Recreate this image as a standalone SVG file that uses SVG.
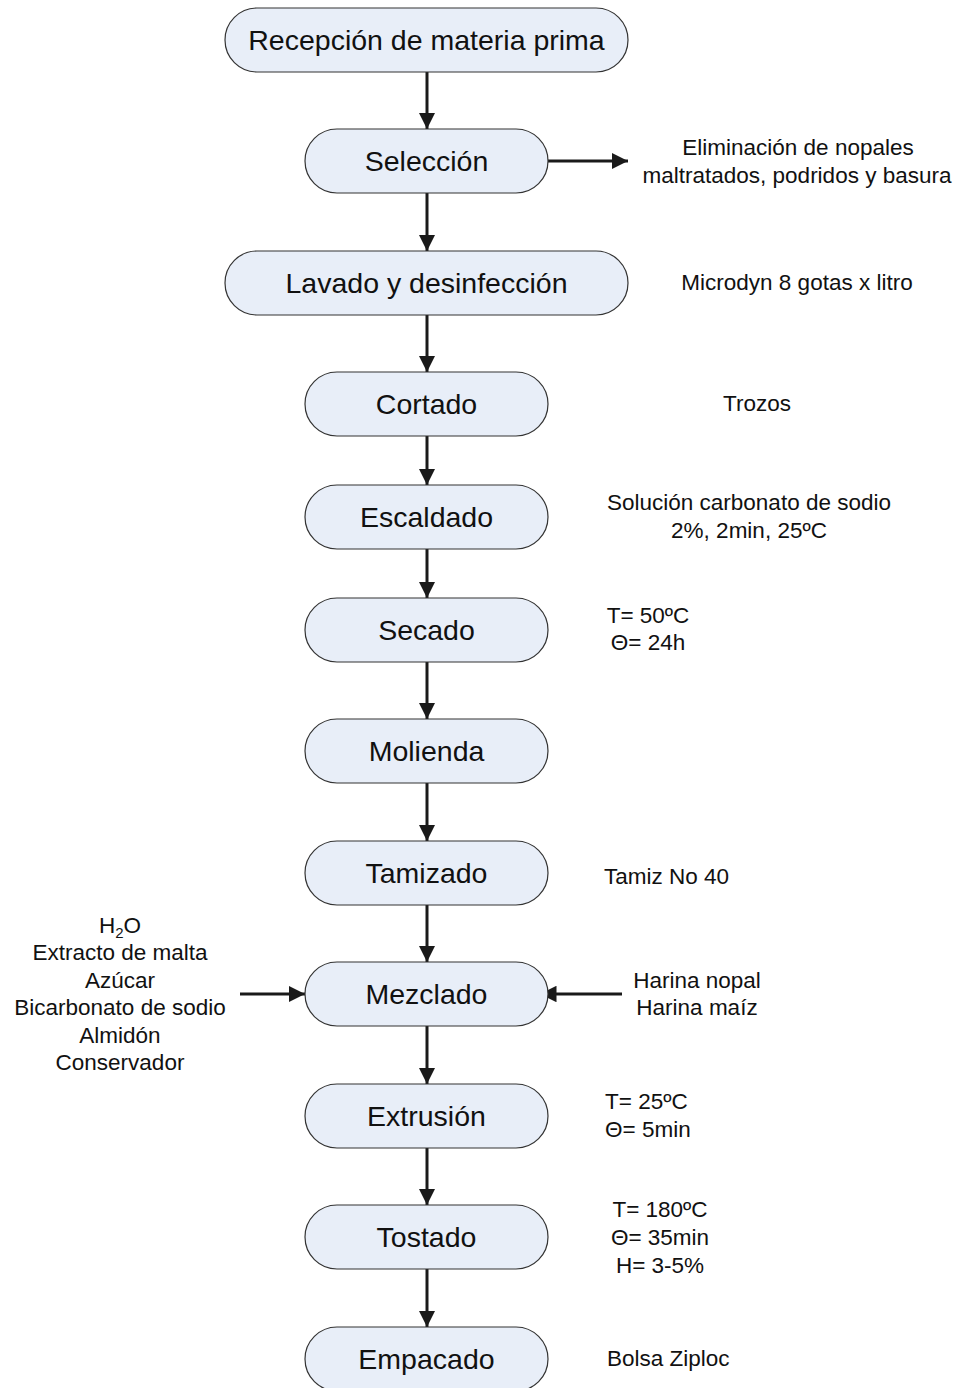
<svg xmlns="http://www.w3.org/2000/svg" width="959" height="1388" viewBox="0 0 959 1388">
<style>
.n rect{fill:#e8eef8;stroke:#333;stroke-width:1.2}
.n text{font-family:"Liberation Sans",Arial,sans-serif;font-size:28.5px;fill:#111;text-anchor:middle}
.t{font-family:"Liberation Sans",Arial,sans-serif;font-size:22.5px;fill:#111}
.c{text-anchor:middle}
#conn line{stroke:#1a1a1a;stroke-width:3}
</style>
<defs>
<marker id="ah" viewBox="0 0 10 10" refX="10" refY="5" markerWidth="5.5" markerHeight="5.5" markerUnits="strokeWidth" orient="auto">
<path d="M0,0 L10,5 L0,10 z" fill="#1a1a1a"/>
</marker>
</defs>
<rect width="959" height="1388" fill="#fff"/>
<g id="conn">
<line x1="427" y1="72" x2="427" y2="129" marker-end="url(#ah)"/>
<line x1="427" y1="193" x2="427" y2="251" marker-end="url(#ah)"/>
<line x1="427" y1="315" x2="427" y2="372" marker-end="url(#ah)"/>
<line x1="427" y1="436" x2="427" y2="485" marker-end="url(#ah)"/>
<line x1="427" y1="549" x2="427" y2="598" marker-end="url(#ah)"/>
<line x1="427" y1="662" x2="427" y2="719" marker-end="url(#ah)"/>
<line x1="427" y1="783" x2="427" y2="841" marker-end="url(#ah)"/>
<line x1="427" y1="905" x2="427" y2="962" marker-end="url(#ah)"/>
<line x1="427" y1="1026" x2="427" y2="1084" marker-end="url(#ah)"/>
<line x1="427" y1="1148" x2="427" y2="1205" marker-end="url(#ah)"/>
<line x1="427" y1="1269" x2="427" y2="1327" marker-end="url(#ah)"/>
<line x1="548" y1="161" x2="628" y2="161" marker-end="url(#ah)"/>
<line x1="240" y1="994" x2="305" y2="994" marker-end="url(#ah)"/>
<line x1="622" y1="994" x2="540" y2="994" marker-end="url(#ah)"/>
</g>
<g id="n1" class="n"><rect x="225" y="8" width="403" height="64" rx="32"/><text x="426.5" y="50">Recepción de materia prima</text></g>
<g id="n2" class="n"><rect x="305" y="129" width="243" height="64" rx="32"/><text x="426.5" y="171">Selección</text></g>
<g id="n3" class="n"><rect x="225" y="251" width="403" height="64" rx="32"/><text x="426.5" y="293">Lavado y desinfección</text></g>
<g id="n4" class="n"><rect x="305" y="372" width="243" height="64" rx="32"/><text x="426.5" y="414">Cortado</text></g>
<g id="n5" class="n"><rect x="305" y="485" width="243" height="64" rx="32"/><text x="426.5" y="527">Escaldado</text></g>
<g id="n6" class="n"><rect x="305" y="598" width="243" height="64" rx="32"/><text x="426.5" y="640">Secado</text></g>
<g id="n7" class="n"><rect x="305" y="719" width="243" height="64" rx="32"/><text x="426.5" y="761">Molienda</text></g>
<g id="n8" class="n"><rect x="305" y="841" width="243" height="64" rx="32"/><text x="426.5" y="883">Tamizado</text></g>
<g id="n9" class="n"><rect x="305" y="962" width="243" height="64" rx="32"/><text x="426.5" y="1004">Mezclado</text></g>
<g id="n10" class="n"><rect x="305" y="1084" width="243" height="64" rx="32"/><text x="426.5" y="1126">Extrusión</text></g>
<g id="n11" class="n"><rect x="305" y="1205" width="243" height="64" rx="32"/><text x="426.5" y="1247">Tostado</text></g>
<g id="n12" class="n"><rect x="305" y="1327" width="243" height="64" rx="32"/><text x="426.5" y="1369">Empacado</text></g>
<g id="notes">
<text class="t c" x="798" y="155">Eliminación de nopales</text>
<text class="t c" x="797" y="183">maltratados, podridos y basura</text>
<text class="t c" x="797" y="290">Microdyn 8 gotas x litro</text>
<text class="t c" x="757" y="411">Trozos</text>
<text class="t c" x="749" y="510">Solución carbonato de sodio</text>
<text class="t c" x="749" y="538">2%, 2min, 25ºC</text>
<text class="t c" x="648" y="623">T= 50ºC</text>
<text class="t c" x="648" y="650">Θ= 24h</text>
<text class="t" x="604" y="884">Tamiz No 40</text>
<text class="t c" x="120" y="933">H<tspan font-size="15" dy="5">2</tspan><tspan dy="-5">O</tspan></text>
<text class="t c" x="120" y="960">Extracto de malta</text>
<text class="t c" x="120" y="988">Azúcar</text>
<text class="t c" x="120" y="1015">Bicarbonato de sodio</text>
<text class="t c" x="120" y="1043">Almidón</text>
<text class="t c" x="120" y="1070">Conservador</text>
<text class="t c" x="697" y="988">Harina nopal</text>
<text class="t c" x="697" y="1015">Harina maíz</text>
<text class="t" x="605" y="1109">T= 25ºC</text>
<text class="t" x="605" y="1137">Θ= 5min</text>
<text class="t c" x="660" y="1217">T= 180ºC</text>
<text class="t c" x="660" y="1245">Θ= 35min</text>
<text class="t c" x="660" y="1273">H= 3-5%</text>
<text class="t" x="607" y="1366">Bolsa Ziploc</text>
</g>
</svg>
